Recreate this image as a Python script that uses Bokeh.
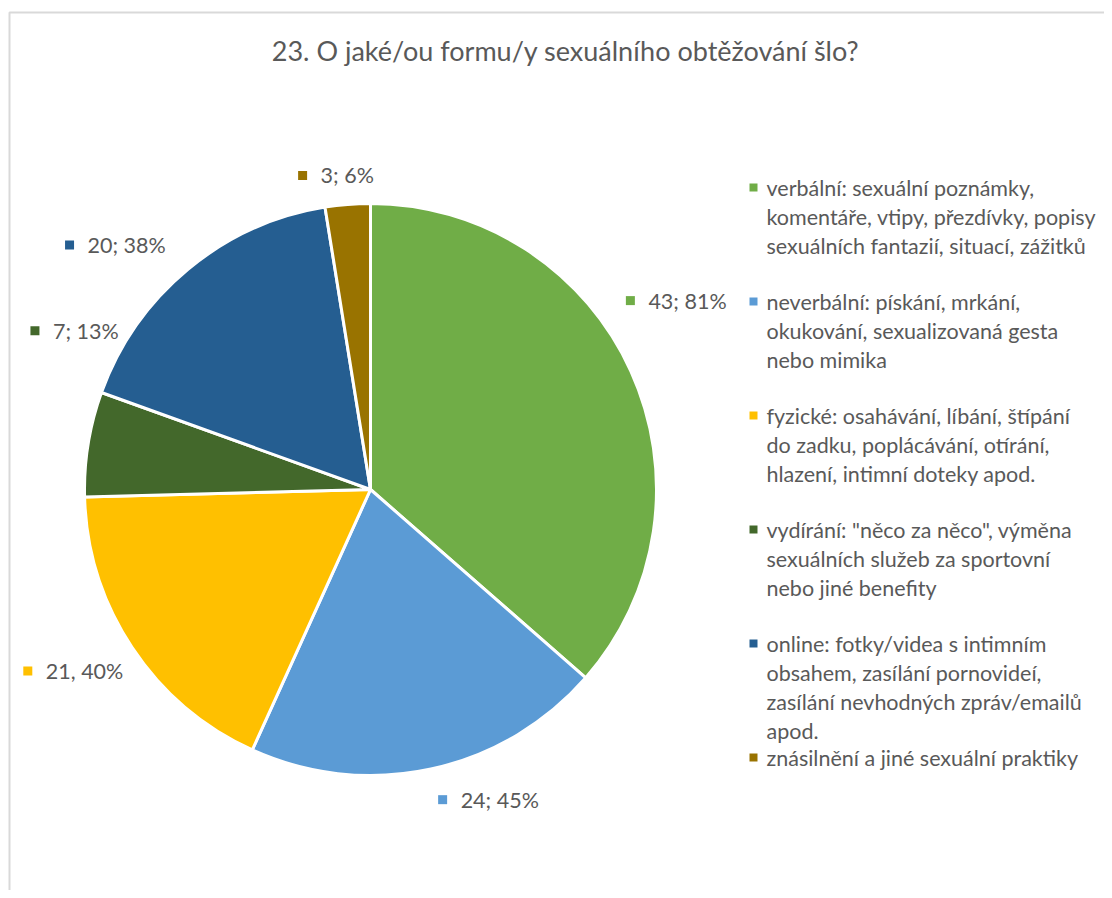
import math
from bokeh.plotting import figure
from bokeh.models import Range1d, ColumnDataSource
from bokeh.core.properties import value
from bokeh.embed import file_html
from bokeh.resources import INLINE

# ---- data ----
title_text = "23. O jaké/ou formu/y sexuálního obtěžování šlo?"
categories = [
    "verbální: sexuální poznámky,\nkomentáře, vtipy, přezdívky, popisy\nsexuálních fantazií, situací, zážitků",
    "neverbální: pískání, mrkání,\nokukování, sexualizovaná gesta\nnebo mimika",
    "fyzické: osahávání, líbání, štípání\ndo zadku, poplácávání, otírání,\nhlazení, intimní doteky apod.",
    "vydírání: \"něco za něco\", výměna\nsexuálních služeb za sportovní\nnebo jiné benefity",
    "online: fotky/videa s intimním\nobsahem, zasílání pornovideí,\nzasílání nevhodných zpráv/emailů\napod.",
    "znásilnění a jiné sexuální praktiky",
]
counts = [43, 24, 21, 7, 20, 3]
data_labels = ["43; 81%", "24; 45%", "21, 40%", "7; 13%", "20; 38%", "3; 6%"]
colors = ["#70AD47", "#5B9BD5", "#FFC000", "#43682B", "#255E91", "#997300"]

# ---- layout / style ----
W, H = 1104, 890
FONT = "Lato"
TXT = "#595959"
cx, cy, R = 370, 401, 286
# label placement (angle nudge in degrees from slice middle, radius in px)
lab_nudge = [-9.8, -4.0, 4.35, 17.4, -9.5, -4.45]
lab_rad = [336, 323, 372, 355, 374, 318]

p = figure(width=W, height=H, output_backend="svg", toolbar_location=None,
           x_range=Range1d(0, W), y_range=Range1d(0, H), min_border=0)
p.axis.visible = False
p.grid.visible = False
p.outline_line_color = None
p.background_fill_color = "white"
p.border_fill_color = "white"

# chart area border (top + left)
p.line([9, 9, W], [0, 878, 878], line_color="#d9d9d9", line_width=2)

# title
p.text(x=[565], y=[840], text=[title_text], text_font=value(FONT), text_font_size="27px",
       text_color=TXT, text_align="center", text_baseline="middle")

# pie
total = sum(counts)
starts, ends, mids = [], [], []
acc = 0.0
for c in counts:
    a0 = acc / total * 2 * math.pi
    acc += c
    a1 = acc / total * 2 * math.pi
    starts.append(math.pi / 2 - a0)
    ends.append(math.pi / 2 - a1)
    mids.append((a0 + a1) / 2)

src = ColumnDataSource(dict(start=starts, end=ends, color=colors))
p.wedge(x=cx, y=cy, radius=R, start_angle="start", end_angle="end", direction="clock",
        fill_color="color", line_color="white", line_width=3, source=src)

# data labels
lx, ly = [], []
for m, dn, rr in zip(mids, lab_nudge, lab_rad):
    a = m + math.radians(dn)
    lx.append(cx + rr * math.sin(a))
    ly.append(cy + rr * math.cos(a))
p.scatter(x=[x - 18 for x in lx], y=ly, marker="square", size=9, fill_color=colors,
          line_color=None)
p.text(x=lx, y=ly, text=data_labels, text_font=value(FONT), text_font_size="21.5px",
       text_color=TXT, text_align="left", text_baseline="middle")

# legend
leg_x, leg_y0, slot, line_h = 766, 703, 114, 29
mx, my, tx, ty, tt = [], [], [], [], []
for i, lab in enumerate(categories):
    y0 = leg_y0 - i * slot
    mx.append(leg_x - 13)
    my.append(y0)
    for j, ln in enumerate(lab.split("\n")):
        tx.append(leg_x)
        ty.append(y0 - j * line_h)
        tt.append(ln)
p.scatter(x=mx, y=my, marker="square", size=8, fill_color=colors, line_color=None)
p.text(x=tx, y=ty, text=tt, text_font=value(FONT), text_font_size="21.5px",
       text_color=TXT, text_align="left", text_baseline="middle")

open("out.html", "w").write(file_html(p, INLINE))
